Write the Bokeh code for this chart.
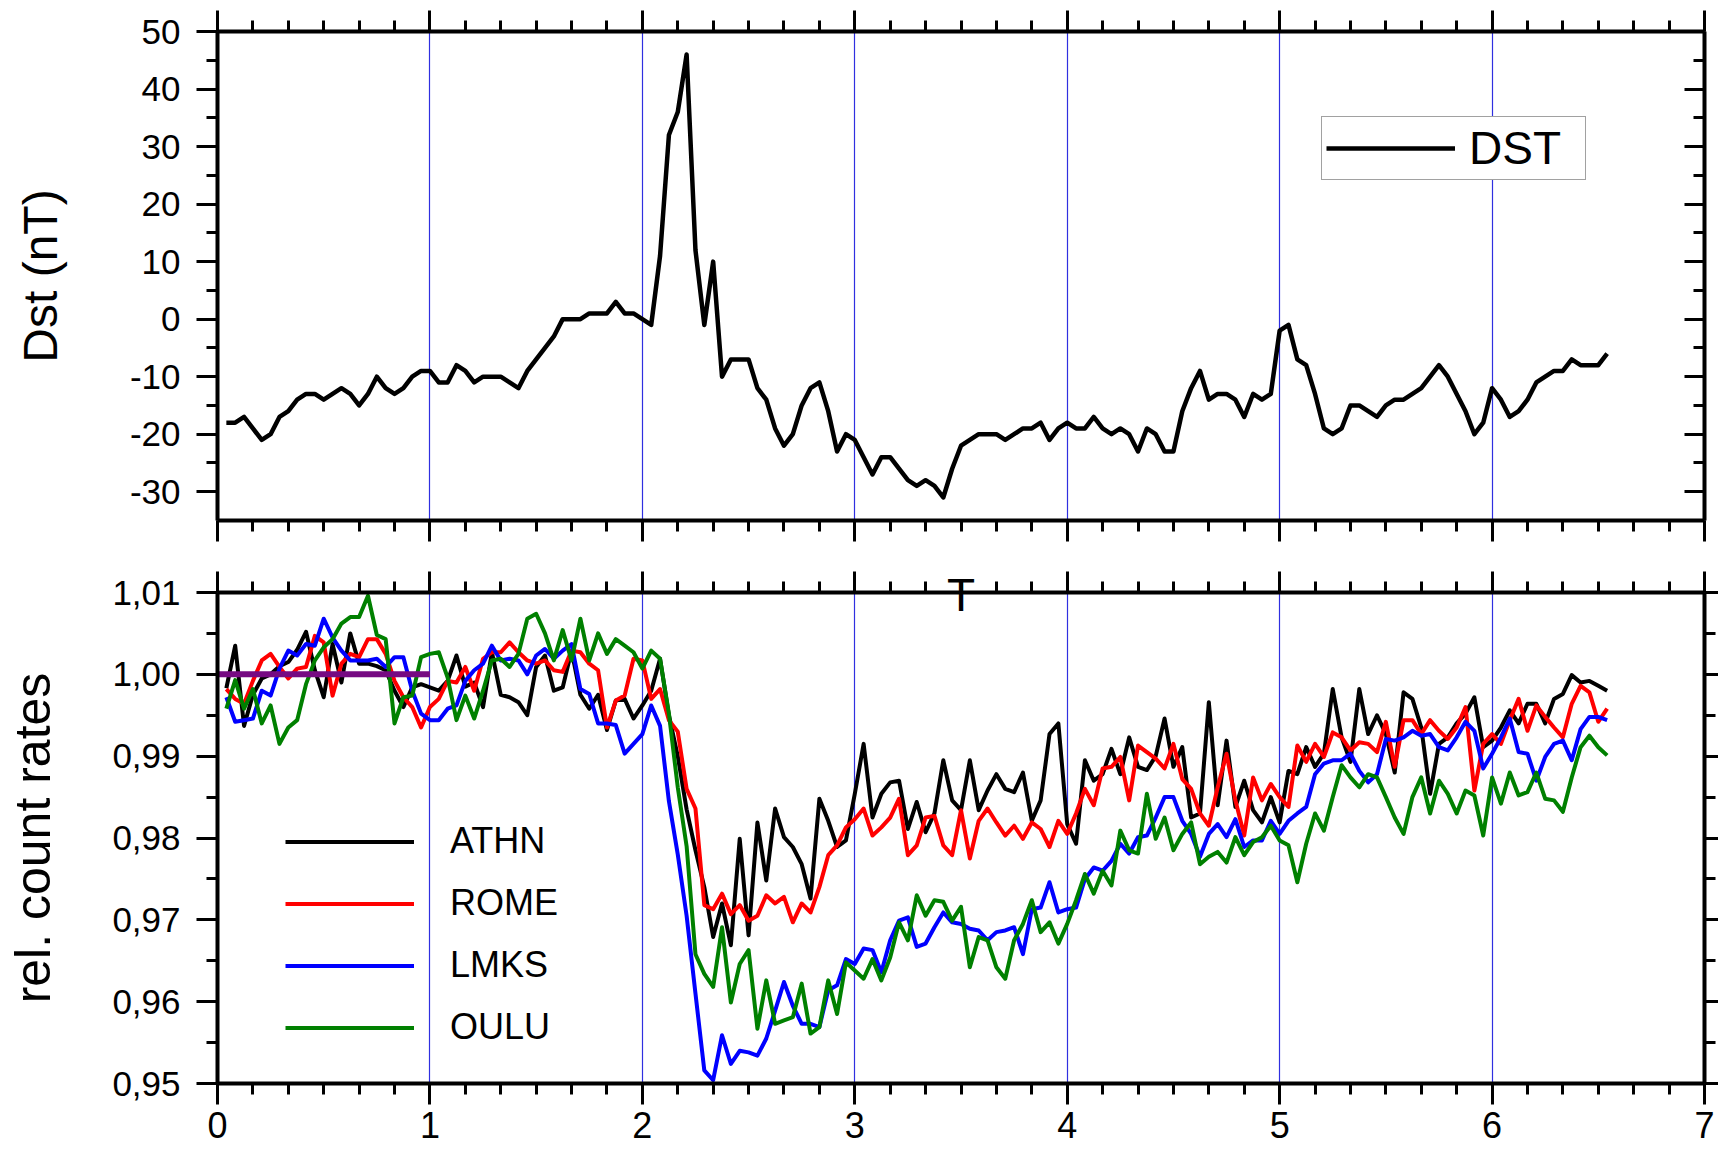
from bokeh.plotting import figure
from bokeh.models import (Range1d, LinearAxis, FixedTicker, Legend, LegendItem,
                          NumeralTickFormatter, CustomJSTickFormatter)
from bokeh.layouts import column
from bokeh.embed import file_html
from bokeh.resources import INLINE

# ---------------- data (hourly, hour 1 .. 157, x in days) ----------------
hours = list(range(1, 158))
days = [h / 24 for h in hours]

dst = [-18, -18, -17, -19, -21, -20, -17, -16, -14, -13, -13, -14, -13, -12, -13, -15,
       -13, -10, -12, -13, -12, -10, -9, -9, -11, -11, -8, -9, -11, -10, -10, -10,
       -11, -12, -9, -7, -5, -3, 0, 0, 0, 1, 1, 1, 3, 1, 1, 0,
       -1, 11, 32, 36, 46, 12, -1, 10, -10, -7, -7, -7, -12, -14, -19, -22,
       -20, -15, -12, -11, -16, -23, -20, -21, -24, -27, -24, -24, -26, -28, -29, -28,
       -29, -31, -26, -22, -21, -20, -20, -20, -21, -20, -19, -19, -18, -21, -19, -18,
       -19, -19, -17, -19, -20, -19, -20, -23, -19, -20, -23, -23, -16, -12, -9, -14,
       -13, -13, -14, -17, -13, -14, -13, -2, -1, -7, -8, -13, -19, -20, -19, -15,
       -15, -16, -17, -15, -14, -14, -13, -12, -10, -8, -10, -13, -16, -20, -18, -12,
       -14, -17, -16, -14, -11, -10, -9, -9, -7, -8, -8, -8, -6]

athn = [0.9983, 1.0035, 0.9937, 0.9975, 0.9995, 1.0000, 1.0010, 1.0015, 1.0030, 1.0052,
        1.0005, 0.9972, 1.0037, 0.9990, 1.0050, 1.0013, 1.0013, 1.0010, 1.0005, 0.9980,
        0.9960, 0.9984, 0.9988, 0.9984, 0.9980, 0.9992, 1.0023, 0.9985, 0.9990, 0.9960,
        1.0027, 0.9975, 0.9972, 0.9966, 0.9950, 1.0009, 1.0023, 0.9980, 0.9984, 1.0029,
        0.9975, 0.9958, 0.9975, 0.9932, 0.9968, 0.9970, 0.9946, 0.9962, 0.9980, 1.0019,
        0.9950, 0.9900, 0.9835, 0.9785, 0.9740, 0.9679, 0.9720, 0.9669, 0.9799, 0.9681,
        0.9819, 0.9748, 0.9836, 0.9801, 0.9789, 0.9768, 0.9726, 0.9848, 0.9821, 0.9789,
        0.9797, 0.9854, 0.9915, 0.9825, 0.9854, 0.9868, 0.9870, 0.9811, 0.9844, 0.9807,
        0.9830, 0.9895, 0.9846, 0.9834, 0.9895, 0.9834, 0.9858, 0.9878, 0.9860, 0.9856,
        0.9880, 0.9821, 0.9846, 0.9927, 0.9940, 0.9817, 0.9793, 0.9895, 0.9870, 0.9878,
        0.9909, 0.9878, 0.9923, 0.9887, 0.9883, 0.9900, 0.9946, 0.9887, 0.9911, 0.9825,
        0.9830, 0.9966, 0.9840, 0.9919, 0.9838, 0.9870, 0.9834, 0.9819, 0.9850, 0.9819,
        0.9882, 0.9878, 0.9911, 0.9887, 0.9903, 0.9982, 0.9923, 0.9893, 0.9982, 0.9927,
        0.9950, 0.9927, 0.9880, 0.9978, 0.9970, 0.9935, 0.9854, 0.9915, 0.9923, 0.9940,
        0.9952, 0.9972, 0.9911, 0.9919, 0.9935, 0.9956, 0.9940, 0.9964, 0.9964, 0.9940,
        0.9970, 0.9976, 0.9999, 0.9990, 0.9992, 0.9986, 0.9980]

rome = [0.9982, 0.9970, 0.9964, 0.9992, 1.0017, 1.0025, 1.0009, 0.9995, 1.0007, 1.0009,
        1.0047, 1.0039, 0.9974, 1.0013, 1.0025, 1.0021, 1.0043, 1.0043, 1.0025, 0.9992,
        0.9972, 0.9960, 0.9935, 0.9960, 0.9970, 0.9992, 0.9990, 1.0009, 0.9980, 1.0019,
        1.0027, 1.0027, 1.0039, 1.0027, 1.0017, 1.0013, 1.0017, 1.0005, 1.0003, 1.0029,
        1.0027, 1.0013, 1.0005, 0.9935, 0.9968, 0.9974, 1.0019, 1.0017, 0.9970, 0.9982,
        0.9944, 0.9930, 0.9860, 0.9836, 0.9718, 0.9713, 0.9732, 0.9707, 0.9718, 0.9699,
        0.9705, 0.9730, 0.9720, 0.9728, 0.9697, 0.9720, 0.9709, 0.9740, 0.9779, 0.9791,
        0.9813, 0.9823, 0.9836, 0.9803, 0.9813, 0.9825, 0.9848, 0.9779, 0.9791, 0.9825,
        0.9827, 0.9791, 0.9779, 0.9834, 0.9775, 0.9821, 0.9836, 0.9819, 0.9803, 0.9815,
        0.9799, 0.9819, 0.9811, 0.9789, 0.9821, 0.9805, 0.9830, 0.9860, 0.9840, 0.9885,
        0.9887, 0.9899, 0.9846, 0.9913, 0.9905, 0.9897, 0.9885, 0.9915, 0.9872, 0.9860,
        0.9830, 0.9815, 0.9862, 0.9903, 0.9846, 0.9803, 0.9874, 0.9846, 0.9866, 0.9850,
        0.9838, 0.9913, 0.9893, 0.9915, 0.9899, 0.9929, 0.9923, 0.9907, 0.9917, 0.9915,
        0.9905, 0.9942, 0.9887, 0.9944, 0.9944, 0.9927, 0.9944, 0.9931, 0.9921, 0.9935,
        0.9960, 0.9858, 0.9915, 0.9927, 0.9915, 0.9944, 0.9970, 0.9931, 0.9962, 0.9948,
        0.9935, 0.9923, 0.9964, 0.9986, 0.9978, 0.9942, 0.9958]

lmks = [0.9972, 0.9942, 0.9944, 0.9946, 0.9980, 0.9974, 1.0007, 1.0029, 1.0023, 1.0037,
        1.0035, 1.0068, 1.0045, 1.0029, 1.0017, 1.0017, 1.0017, 1.0019, 1.0009, 1.0021,
        1.0021, 0.9980, 0.9952, 0.9944, 0.9944, 0.9958, 0.9962, 0.9992, 1.0005, 1.0013,
        1.0035, 1.0017, 1.0019, 1.0017, 1.0000, 1.0023, 1.0031, 1.0019, 1.0029, 1.0037,
        0.9982, 0.9976, 0.9940, 0.9940, 0.9938, 0.9903, 0.9915, 0.9927, 0.9962, 0.9937,
        0.9845, 0.9780, 0.9705, 0.9610, 0.9516, 0.9504, 0.9559, 0.9524, 0.9540, 0.9538,
        0.9534, 0.9555, 0.9589, 0.9624, 0.9595, 0.9573, 0.9573, 0.9569, 0.9614, 0.9620,
        0.9652, 0.9646, 0.9665, 0.9663, 0.9636, 0.9675, 0.9699, 0.9703, 0.9667, 0.9671,
        0.9691, 0.9709, 0.9697, 0.9695, 0.9689, 0.9687, 0.9675, 0.9685, 0.9687, 0.9691,
        0.9658, 0.9713, 0.9715, 0.9746, 0.9709, 0.9713, 0.9715, 0.9750, 0.9764, 0.9760,
        0.9772, 0.9793, 0.9781, 0.9801, 0.9803, 0.9825, 0.9850, 0.9850, 0.9821, 0.9805,
        0.9777, 0.9805, 0.9817, 0.9801, 0.9823, 0.9789, 0.9797, 0.9797, 0.9821, 0.9805,
        0.9821, 0.9830, 0.9838, 0.9878, 0.9891, 0.9895, 0.9895, 0.9903, 0.9882, 0.9868,
        0.9878, 0.9921, 0.9919, 0.9923, 0.9931, 0.9925, 0.9927, 0.9911, 0.9907, 0.9923,
        0.9942, 0.9931, 0.9885, 0.9903, 0.9923, 0.9946, 0.9905, 0.9903, 0.9870, 0.9899,
        0.9915, 0.9919, 0.9895, 0.9933, 0.9948, 0.9948, 0.9944]

oulu = [0.9958, 0.9993, 0.9958, 0.9982, 0.9940, 0.9962, 0.9915, 0.9935, 0.9944, 0.9988,
        1.0017, 1.0033, 1.0043, 1.0062, 1.0070, 1.0070, 1.0096, 1.0048, 1.0043, 0.9940,
        0.9972, 0.9974, 1.0021, 1.0025, 1.0027, 0.9996, 0.9944, 0.9974, 0.9946, 0.9980,
        1.0017, 1.0019, 1.0009, 1.0025, 1.0068, 1.0074, 1.0050, 1.0017, 1.0054, 1.0017,
        1.0068, 1.0017, 1.0050, 1.0025, 1.0043, 1.0035, 1.0027, 1.0007, 1.0029, 1.0019,
        0.9952, 0.9862, 0.9790, 0.9658, 0.9634, 0.9618, 0.9691, 0.9599, 0.9646, 0.9663,
        0.9567, 0.9626, 0.9573, 0.9577, 0.9581, 0.9622, 0.9561, 0.9569, 0.9626, 0.9585,
        0.9648, 0.9638, 0.9628, 0.9652, 0.9626, 0.9654, 0.9697, 0.9675, 0.9730, 0.9705,
        0.9724, 0.9722, 0.9699, 0.9716, 0.9642, 0.9679, 0.9675, 0.9642, 0.9628, 0.9675,
        0.9695, 0.9724, 0.9685, 0.9697, 0.9671, 0.9695, 0.9724, 0.9756, 0.9732, 0.9760,
        0.9742, 0.9809, 0.9785, 0.9781, 0.9854, 0.9799, 0.9825, 0.9785, 0.9805, 0.9819,
        0.9768, 0.9777, 0.9783, 0.9770, 0.9801, 0.9779, 0.9795, 0.9801, 0.9815, 0.9797,
        0.9791, 0.9746, 0.9793, 0.9830, 0.9809, 0.9850, 0.9889, 0.9874, 0.9862, 0.9878,
        0.9874, 0.9850, 0.9825, 0.9805, 0.9850, 0.9874, 0.9830, 0.9870, 0.9854, 0.9830,
        0.9858, 0.9852, 0.9803, 0.9874, 0.9842, 0.9880, 0.9852, 0.9856, 0.9880, 0.9848,
        0.9846, 0.9832, 0.9874, 0.9911, 0.9925, 0.9911, 0.9901]

ref_x = [-0.04, 1.0]
ref_y = [1.0, 1.0]

x_major = [0, 1, 2, 3, 4, 5, 6, 7]
x_minor = [i / 6 for i in range(0, 43)]
grid_x = [1, 2, 3, 4, 5, 6]
dst_major = [-30, -20, -10, 0, 10, 20, 30, 40, 50]
dst_minor = [-25, -15, -5, 5, 15, 25, 35, 45]
cr_major = [0.95, 0.96, 0.97, 0.98, 0.99, 1.00, 1.01]
cr_minor = [0.955, 0.965, 0.975, 0.985, 0.995, 1.005]

FONT = "Liberation Sans"
W = 1718

blank_fmt = CustomJSTickFormatter(code="return '';")


def style_axis(ax, major_out, minor_out, major_in=0, minor_in=0,
               labels=False, size="35px", standoff=16):
    ax.axis_line_width = 4
    ax.axis_line_color = "black"
    ax.major_tick_line_width = 3
    ax.minor_tick_line_width = 3
    ax.major_tick_line_color = "black"
    ax.minor_tick_line_color = "black"
    ax.major_tick_out = major_out
    ax.major_tick_in = major_in
    ax.minor_tick_out = minor_out
    ax.minor_tick_in = minor_in
    if labels:
        ax.major_label_text_font_size = size
        ax.major_label_text_font = FONT
        ax.major_label_text_color = "black"
        ax.major_label_standoff = standoff
    else:
        ax.formatter = blank_fmt
        ax.major_label_text_font_size = "1px"
        ax.major_label_standoff = 0


def style_label(ax, text, size, standoff):
    ax.axis_label = text
    ax.axis_label_text_font = FONT
    ax.axis_label_text_font_size = size
    ax.axis_label_text_font_style = "normal"
    ax.axis_label_text_color = "black"
    ax.axis_label_standoff = standoff


# ---------------- top panel: Dst ----------------
p1 = figure(width=W, height=556, output_backend="svg", toolbar_location=None,
            x_range=Range1d(0, 7), y_range=Range1d(-35, 50),
            min_border_left=217, min_border_right=14,
            min_border_top=31, min_border_bottom=36)
p1.outline_line_color = None
p1.background_fill_color = "white"
p1.border_fill_color = "white"

p1.xaxis.ticker = FixedTicker(ticks=x_major, minor_ticks=x_minor)
p1.yaxis.ticker = FixedTicker(ticks=dst_major, minor_ticks=dst_minor)
p1.yaxis.formatter = NumeralTickFormatter(format="0")
style_axis(p1.xaxis[0], 21, 11)
style_axis(p1.yaxis[0], 21, 11, labels=True, size="35px", standoff=16)
style_label(p1.yaxis[0], "Dst (nT)", "48px", 60)
ax_top1 = LinearAxis(ticker=FixedTicker(ticks=x_major, minor_ticks=x_minor))
style_axis(ax_top1, 21, 11)
p1.add_layout(ax_top1, "above")
ax_r1 = LinearAxis(ticker=FixedTicker(ticks=dst_major, minor_ticks=dst_minor))
style_axis(ax_r1, 0, 0, major_in=20, minor_in=11)
p1.add_layout(ax_r1, "right")

p1.xgrid.ticker = FixedTicker(ticks=grid_x)
p1.xgrid.grid_line_color = "#2f2fe0"
p1.xgrid.grid_line_width = 1.2
p1.ygrid.visible = False

r_dst = p1.line(days, dst, line_color="black", line_width=4.5, line_join="round")

leg1 = Legend(items=[LegendItem(label="DST", renderers=[r_dst])],
              location=(1104, 340), orientation="vertical",
              padding=4, margin=0, spacing=0,
              glyph_width=129, glyph_height=40, label_height=40, label_width=112,
              label_standoff=14,
              label_text_font=FONT, label_text_font_size="46px",
              label_text_color="black",
              border_line_color="#444444", border_line_width=1.5,
              background_fill_color="white", background_fill_alpha=1.0)
p1.add_layout(leg1)

# ---------------- bottom panel: relative count rates ----------------
p2 = figure(width=W, height=596, output_backend="svg", toolbar_location=None,
            x_range=Range1d(0, 7), y_range=Range1d(0.95, 1.01),
            min_border_left=217, min_border_right=14,
            min_border_top=36, min_border_bottom=69)
p2.outline_line_color = None
p2.background_fill_color = "white"
p2.border_fill_color = "white"

p2.xaxis.ticker = FixedTicker(ticks=x_major, minor_ticks=x_minor)
p2.yaxis.ticker = FixedTicker(ticks=cr_major, minor_ticks=cr_minor)
p2.yaxis.formatter = CustomJSTickFormatter(
    code="return tick.toFixed(2).replace('.', ',');")
style_axis(p2.xaxis[0], 21, 11, labels=True, size="36px", standoff=7)
style_axis(p2.yaxis[0], 21, 11, labels=True, size="35px", standoff=16)
style_label(p2.yaxis[0], "rel. count rates", "50px", 48)
ax_top2 = LinearAxis(ticker=FixedTicker(ticks=x_major, minor_ticks=x_minor))
style_axis(ax_top2, 21, 11)
# the "T" mark straddling the upper frame edge at day 3.5
style_label(ax_top2, "T", "46px", -49)
p2.add_layout(ax_top2, "above")
ax_r2 = LinearAxis(ticker=FixedTicker(ticks=cr_major, minor_ticks=cr_minor))
style_axis(ax_r2, 14, 11)
p2.add_layout(ax_r2, "right")

p2.xgrid.ticker = FixedTicker(ticks=grid_x)
p2.xgrid.grid_line_color = "#2f2fe0"
p2.xgrid.grid_line_width = 1.2
p2.ygrid.visible = False

lw = 4
r_a = p2.line(days, athn, line_color="black", line_width=lw, line_join="round")
r_r = p2.line(days, rome, line_color="#ff0000", line_width=lw, line_join="round")
r_l = p2.line(days, lmks, line_color="#0000ff", line_width=lw, line_join="round")
r_o = p2.line(days, oulu, line_color="#008000", line_width=lw, line_join="round")
p2.line(ref_x, ref_y, line_color="#760a82", line_width=6)

leg2 = Legend(items=[LegendItem(label="ATHN", renderers=[r_a]),
                     LegendItem(label="ROME", renderers=[r_r]),
                     LegendItem(label="LMKS", renderers=[r_l]),
                     LegendItem(label="OULU", renderers=[r_o])],
              location=(68, 35), orientation="vertical",
              padding=0, margin=0, spacing=20,
              glyph_width=129, glyph_height=41, label_height=41,
              label_standoff=36,
              label_text_font=FONT, label_text_font_size="36px",
              label_text_color="black",
              border_line_color=None, background_fill_alpha=0.0)
p2.add_layout(leg2)

layout = column(p1, p2, spacing=0)
open("out.html", "w").write(file_html(layout, INLINE))
